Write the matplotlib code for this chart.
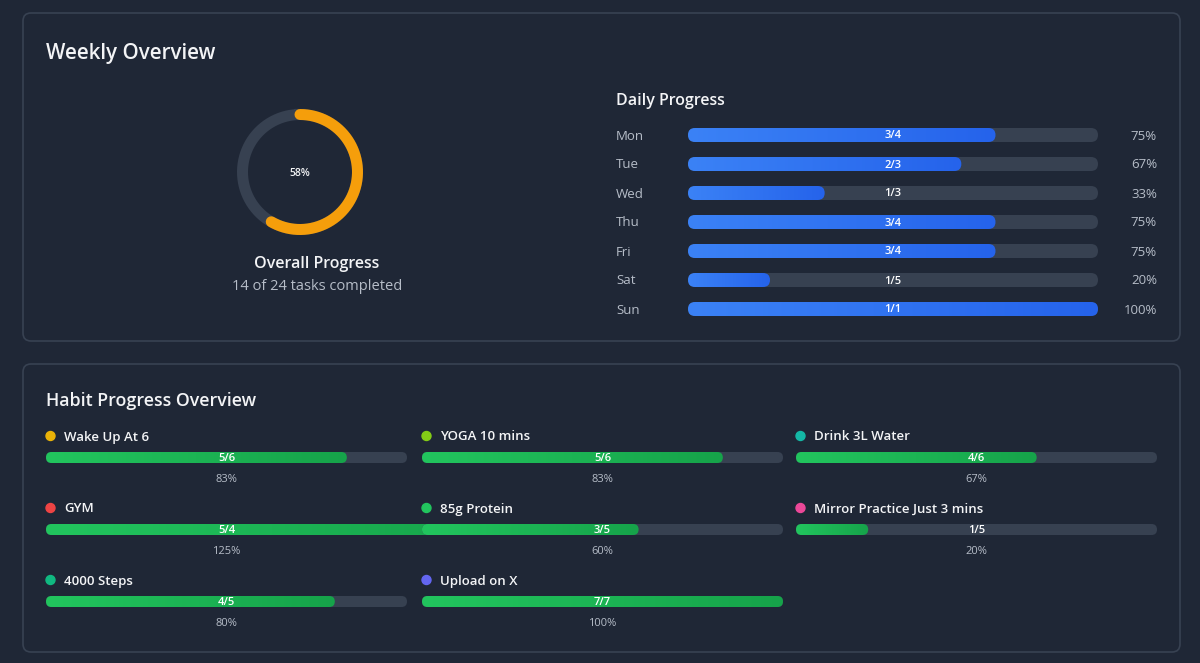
import numpy as np
import matplotlib
matplotlib.use("Agg")
import matplotlib.pyplot as plt
from matplotlib.patches import FancyBboxPatch, Circle
from matplotlib.colors import LinearSegmentedColormap

plt.rcParams['font.family'] = ['Open Sans', 'DejaVu Sans']

# ---------------- data ----------------
overall_done = 14
overall_total = 24

days = ["Mon", "Tue", "Wed", "Thu", "Fri", "Sat", "Sun"]
day_done = [3, 2, 1, 3, 3, 1, 1]
day_total = [4, 3, 3, 4, 4, 5, 1]

habits = ["Wake Up At 6", "YOGA 10 mins", "Drink 3L Water",
          "GYM", "85g Protein", "Mirror Practice Just 3 mins",
          "4000 Steps", "Upload on X"]
habit_done = [5, 5, 4, 5, 3, 1, 4, 7]
habit_total = [6, 6, 6, 4, 5, 5, 5, 7]
habit_colors = ["#eab308", "#84cc16", "#14b8a6", "#ef4444",
                "#22c55e", "#ec4899", "#10b981", "#6366f1"]

# ---------------- style ----------------
BG = "#1f2736"
BORDER = "#384252"
TRACK = "#374151"
TITLE = "#f3f4f6"
MUTED = "#b6bdc8"
blue_cmap = LinearSegmentedColormap.from_list("b", ["#3b82f6", "#2563eb"])
green_cmap = LinearSegmentedColormap.from_list("g", ["#22c55e", "#16a34a"])

fig = plt.figure(figsize=(12, 6.63), dpi=100, facecolor=BG)
ax = fig.add_axes([0, 0, 1, 1])
ax.set_xlim(0, 1200)
ax.set_ylim(663, 0)
ax.set_facecolor(BG)
ax.axis("off")

def panel(x0, y0, x1, y1):
    p = FancyBboxPatch((x0, y0), x1 - x0, y1 - y0,
                       boxstyle="round,pad=0,rounding_size=8",
                       facecolor=BG, edgecolor=BORDER, linewidth=1.2, zorder=0)
    ax.add_patch(p)

def rbar(x, yc, w, h, color=None, cmap=None, z=1):
    p = FancyBboxPatch((x, yc - h / 2), w, h,
                       boxstyle=f"round,pad=0,rounding_size={h/2}",
                       facecolor=color if color else "none",
                       edgecolor="none", linewidth=0, zorder=z)
    ax.add_patch(p)
    if cmap is not None:
        grad = np.linspace(0, 1, 256).reshape(1, -1)
        im = ax.imshow(grad, cmap=cmap, extent=(x, x + w, yc + h / 2, yc - h / 2),
                       aspect="auto", zorder=z, interpolation="bilinear")
        im.set_clip_path(p)
    return p

panel(23, 13, 1180, 341)
panel(23, 364, 1180, 652)

# ---------------- Weekly overview ----------------
ax.text(46, 53, "Weekly Overview", fontsize=14.8, fontweight="semibold",
        color=TITLE, va="center", ha="left")

cx, cy, r = 300, 172, 57.5
lw = 11 * 0.72
t = np.linspace(0, 2 * np.pi, 400)
ax.plot(cx + r * np.sin(t), cy - r * np.cos(t), color=TRACK, lw=lw, zorder=1)
frac = overall_done / overall_total
t2 = np.linspace(0, 2 * np.pi * frac, 300)
ax.plot(cx + r * np.sin(t2), cy - r * np.cos(t2), color="#f59e0b", lw=lw,
        solid_capstyle="round", zorder=2)
ax.text(cx, cy + 1, f"{round(frac*100)}%", fontsize=7.5, fontweight="semibold",
        color=TITLE, ha="center", va="center")
ax.text(317, 264, "Overall Progress", fontsize=11.5, fontweight="semibold",
        color=TITLE, ha="center", va="center")
ax.text(317, 287, f"{overall_done} of {overall_total} tasks completed", fontsize=10.5,
        color=MUTED, ha="center", va="center")

# ---------------- Daily progress ----------------
ax.text(616, 101, "Daily Progress", fontsize=11.5, fontweight="semibold",
        color=TITLE, ha="left", va="center")
tx0, tx1 = 688, 1098
tw = tx1 - tx0
for i, (d, dn, tt) in enumerate(zip(days, day_done, day_total)):
    y = 135 + i * 29
    ax.text(616, y + 1, d, fontsize=9.5, color=MUTED, ha="left", va="center")
    rbar(tx0, y, tw, 14, color=TRACK, z=1)
    p = dn / tt
    rbar(tx0, y, tw * p, 14, cmap=blue_cmap, z=2)
    ax.text(tx0 + tw / 2, y + 1, f"{dn}/{tt}", fontsize=8, fontweight="semibold",
            color="white", ha="center", va="center", zorder=5)
    ax.text(1157, y + 1, f"{round(p*100)}%", fontsize=9.5, color=MUTED,
            ha="right", va="center")

# ---------------- Habit progress ----------------
ax.text(46, 401, "Habit Progress Overview", fontsize=12.8, fontweight="semibold",
        color=TITLE, ha="left", va="center")
col_x = [46, 422, 796]
hw = 361
row_y = [436, 508, 580]
for k, (name, dn, tt, c) in enumerate(zip(habits, habit_done, habit_total, habit_colors)):
    row, col = divmod(k, 3)
    x = col_x[col]
    y = row_y[row]
    z = 2 + col * 3
    ax.add_patch(Circle((x + 4.5, y), 4.5, color=c, zorder=z))
    ax.text(x + 18, y + 1, name, fontsize=9.5, fontweight="semibold", color=TITLE,
            ha="left", va="center")
    yb = y + 21.5
    rbar(x, yb, hw, 11, color=TRACK, z=z)
    p = dn / tt
    rbar(x, yb, hw * p, 11, cmap=green_cmap, z=z + 1)
    ax.text(x + hw / 2, yb + 1, f"{dn}/{tt}", fontsize=8, fontweight="semibold",
            color="white", ha="center", va="center", zorder=20)
    ax.text(x + hw / 2, y + 43, f"{round(p*100)}%", fontsize=8, color=MUTED,
            ha="center", va="center")

fig.savefig("out.png", dpi=100, facecolor=BG)
